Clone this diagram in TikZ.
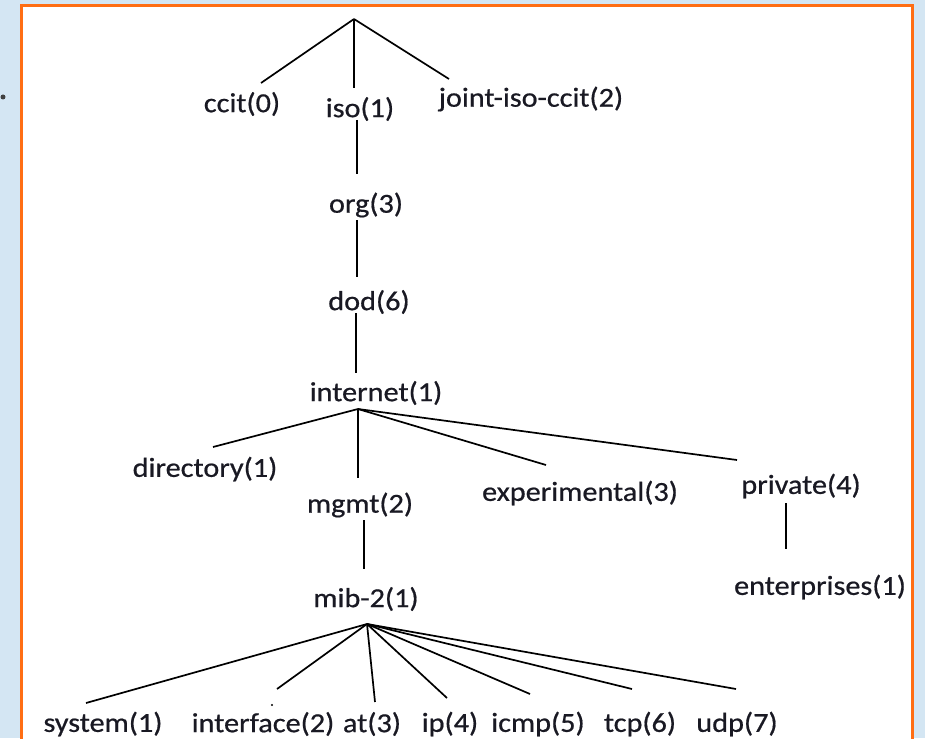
\documentclass[tikz,border=0pt]{standalone}
\usepackage{fontspec}
\setmainfont[FakeStretch=1.1,FakeBold=0.6]{Carlito}
\definecolor{bgblue}{RGB}{212,230,243}
\definecolor{frameorange}{RGB}{255,110,20}
\definecolor{txt}{RGB}{25,25,35}
\begin{document}
\begin{tikzpicture}[x=1pt,y=-1pt,
  lbl/.style={inner sep=0pt, anchor=center, text=txt, font=\fontsize{27.5}{30}\selectfont},
  edge/.style={draw=black, line width=1.7pt}]
\useasboundingbox (0,0) rectangle (925,738);
\fill[bgblue] (0,0) rectangle (925,738);
\begin{scope}
\clip (0,0) rectangle (925,738);
\draw[fill=white, draw=frameorange, line width=3pt] (21,6) rectangle (912,770);
\end{scope}
\fill[black!75] (3,97) circle (2.5);
% nodes
\node[lbl] (ccit) at (242,104) {ccit(0)};
\node[lbl] (iso) at (360,109) {iso(1)};
\node[lbl] (joint) at (531,99) {joint-iso-ccit(2)};
\node[lbl] (org) at (366,205) {org(3)};
\node[lbl] (dod) at (369,302) {dod(6)};
\node[lbl] (internet) at (376,393) {internet(1)};
\node[lbl] (directory) at (205,469) {directory(1)};
\node[lbl] (mgmt) at (360,505) {mgmt(2)};
\node[lbl] (experimental) at (580,493) {experimental(3)};
\node[lbl] (private) at (801,486) {private(4)};
\node[lbl] (enterprises) at (820,587) {enterprises(1)};
\node[lbl] (mib) at (366,599) {mib-2(1)};
\node[lbl] (system) at (103,724) {system(1)};
\node[lbl] (interface) at (263,724) {interface(2)};
\node[lbl] (at) at (372,724) {at(3)};
\node[lbl] (ip) at (450,724) {ip(4)};
\node[lbl] (icmp) at (538,724) {icmp(5)};
\node[lbl] (tcp) at (640,724) {tcp(6)};
\node[lbl] (udp) at (737,724) {udp(7)};
% connector points
\coordinate (root) at (354,19);
\coordinate (ccitT) at (261,83);
\coordinate (isoT) at (354,88);
\coordinate (jointT) at (449,79);
\coordinate (isoB) at (357,120);
\coordinate (orgT) at (357,174);
\coordinate (orgB) at (357,220);
\coordinate (dodT) at (357,277);
\coordinate (dodB) at (356,313);
\coordinate (internetT) at (356,373);
\coordinate (internetB) at (358,409);
\coordinate (directoryT) at (213,447);
\coordinate (mgmtT) at (358,478);
\coordinate (experimentalT) at (546,465);
\coordinate (privateT) at (737,460);
\coordinate (privateB) at (786,503);
\coordinate (enterprisesT) at (786,549);
\coordinate (mgmtB) at (364,520);
\coordinate (mibT) at (364,569);
\coordinate (mibB) at (367,624);
\coordinate (systemT) at (86,703);
\coordinate (interfaceT) at (277,689);
\coordinate (atT) at (375,702);
\coordinate (ipT) at (447,698);
\coordinate (icmpT) at (530,694);
\coordinate (tcpT) at (632,689);
\coordinate (udpT) at (736,689);
% connectors
\draw[edge] (root) -- (ccitT);
\draw[edge] (root) -- (isoT);
\draw[edge] (root) -- (jointT);
\draw[edge] (isoB) -- (orgT);
\draw[edge] (orgB) -- (dodT);
\draw[edge] (dodB) -- (internetT);
\draw[edge] (internetB) -- (directoryT);
\draw[edge] (internetB) -- (mgmtT);
\draw[edge] (internetB) -- (experimentalT);
\draw[edge] (internetB) -- (privateT);
\draw[edge] (privateB) -- (enterprisesT);
\draw[edge] (mgmtB) -- (mibT);
\draw[edge] (mibB) -- (systemT);
\draw[edge] (mibB) -- (interfaceT);
\draw[edge] (mibB) -- (atT);
\draw[edge] (mibB) -- (ipT);
\draw[edge] (mibB) -- (icmpT);
\draw[edge] (mibB) -- (tcpT);
\draw[edge] (mibB) -- (udpT);
\fill[black] (272,705) circle (1.1);
\end{tikzpicture}
\end{document}
